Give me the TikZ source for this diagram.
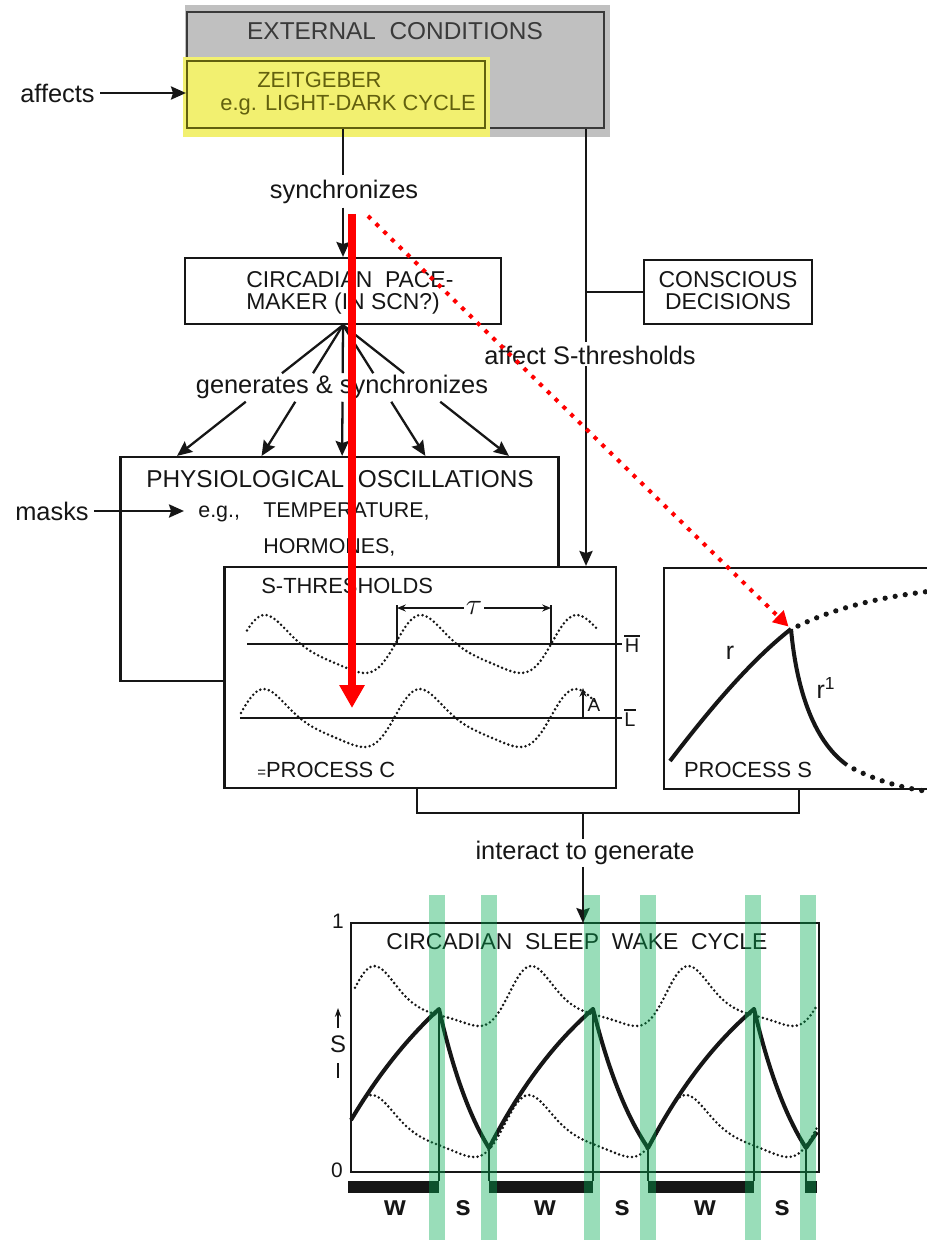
\documentclass[tikz,border=0pt]{standalone}
\usepackage{fontspec}
\setmainfont{Liberation Sans}
\usetikzlibrary{arrows.meta,calc,fit}
\definecolor{ink}{RGB}{22,22,22}
\definecolor{greybg}{RGB}{192,192,192}
\definecolor{greyink}{RGB}{58,58,58}
\definecolor{hiyel}{RGB}{242,240,112}
\definecolor{zgink}{RGB}{98,96,14}
\definecolor{hgreen}{RGB}{0,170,80}
\definecolor{hred}{RGB}{255,0,0}
\newcommand\fpx[1]{\fontsize{\fpeval{#1*0.5669}pt}{\fpeval{#1*0.68}pt}\selectfont}
\begin{document}
\begin{tikzpicture}[x=0.02cm,y=-0.02cm,
 box/.style={draw=ink,line width=1.25pt,fill=white,inner sep=0pt},
 con/.style={draw=ink,line width=1.3pt},
 arr/.style={con,-{Stealth[length=8.5pt,width=7.5pt,inset=1.2pt]}},
 txt/.style={inner sep=0pt,text=ink},
 caps/.style={txt,text height=0.72em,text depth=0.02em},
 lab/.style={txt,font=\fpx{25.5}},
 dotw/.style={draw=ink,line width=1.6pt,line cap=round,dash pattern=on 0pt off 2.5pt},
 bigdots/.style={draw=ink,line width=3pt,line cap=round,dash pattern=on 0pt off 5.8pt},
 scurve/.style={draw=ink,line width=2.3pt,line join=round},
 thinl/.style={draw=ink,line width=0.6pt},
 wbar/.style={fill=ink},
 hbar/.style={fill=hgreen,fill opacity=0.4},
 redarr/.style={draw=hred,line width=4.5pt,-{Triangle[length=13pt,width=13.6pt]}},
 reddot/.style={draw=hred,line width=2.3pt,dash pattern=on 2.3pt off 3.9pt,-{Triangle[length=8.5pt,width=9pt]}}
]
\useasboundingbox (0,0) rectangle (926,1240);
\fill[white] (0,0) rectangle (926,1240);

% ---------- external conditions / zeitgeber
\fill[greybg] (185,5) rectangle (610,137);
\node[fit={(187,12) (604,128)},draw=greyink,line width=1.25pt,inner sep=0pt] (ext) {};
\node[caps,text=greyink,font=\fpx{24.5}] (extt) at (395,33) {EXTERNAL\ \ CONDITIONS};
\fill[hiyel] (183,57) rectangle (490,137);
\node[fit={(187,61) (485,128)},draw=zgink,line width=1.25pt,inner sep=0pt] (zeit) {};
\node[caps,text=zgink,font=\fpx{22},anchor=west] (zt1) at (257,81) {ZEITGEBER};
\node[caps,text=zgink,font=\fpx{22},anchor=west] (zt2) at (220,104) {e.g. LIGHT-DARK CYCLE};

\node[lab,anchor=east] (aff) at (95,93) {affects};
\draw[arr,shorten <=3pt] (aff.east) -- (aff.east -| zeit.west);

% ---------- pacemaker
\node[box,fit={(185,258) (501,324)}] (pace) {};
\node[caps,font=\fpx{23},anchor=west] (pt1) at (246,281) {CIRCADIAN\ \ PACE-};
\node[caps,font=\fpx{23},anchor=west] (pt2) at (246,303) {MAKER (IN SCN?)};

\node[lab] (sync) at (344,192) {synchronizes};
\draw[con,shorten >=3pt] (ext.south -| pace.north) -- (sync.north -| pace.north);
\draw[arr,shorten <=2pt] (sync.south -| pace.north) -- (pace.north);

% ---------- conscious decisions
\node[box,fit={(644,260) (812,324)}] (cons) {};
\node[caps,font=\fpx{23}] (ct1) at (728,281) {CONSCIOUS};
\node[caps,font=\fpx{23}] (ct2) at (728,303) {DECISIONS};

% ---------- physiological oscillations
\node[box,fit={(120.5,457) (558.5,681)}] (phys) {};
\node[caps,font=\fpx{24.5}] (pht) at (340,481) {PHYSIOLOGICAL\ \ OSCILLATIONS};
\node[lab] (masks) at (52,511) {masks};
\node[caps,font=\fpx{21.5},anchor=west] (temp) at (263,511) {TEMPERATURE,};
\node[txt,font=\fpx{21.5},anchor=base west] (eg) at (temp.base -| 198,0) {e.g.,};
\node[caps,font=\fpx{21.5},anchor=west] (horm) at (263,547) {HORMONES,};
\draw[arr,shorten <=3pt,shorten >=8pt] (masks.east) -- (masks.east -| eg.west);

% fan
\node[lab] (gen) at (342,387) {generates \& synchronizes};
\foreach \f in {0.131,0.323,0.506,0.695,0.885}{
  \coordinate (tip) at ($(phys.north west)!\f!(phys.north east)$);
  \draw[con] (pace.south) -- ($(pace.south)!0.368!(tip)$);
  \draw[arr] ($(pace.south)!0.586!(tip)$) -- (tip);
}

% ---------- process C
\node[box,fit={(224.5,567) (616,788)}] (cbox) {};
\node[caps,font=\fpx{22},anchor=west] (sth) at (261,587) {S-THRESHOLDS};
\node[caps,font=\fpx{22},anchor=west] (pc) at (257,771) {{\fpx{15}=}PROCESS C};
\draw[line width=1.2pt,draw=ink] (247,644) -- (622,644);
\draw[line width=1.2pt,draw=ink] (240,718) -- (622,718);
\draw[dotw] plot[domain=247:597,samples=160,variable=\t] (\t,{644+29*cos((\t-365)*2.30769+31.5*(1-cos((\t-365)*2.30769)))});
\draw[dotw] plot[domain=241:596,samples=160,variable=\t] (\t,{718+29*cos((\t-364)*2.30769+31.5*(1-cos((\t-364)*2.30769)))});
\draw[thinl,line width=0.9pt] (397,605) -- (397,643);
\draw[thinl,line width=0.9pt] (551,605) -- (551,643);
\draw[thinl,line width=0.9pt,{Stealth[length=5pt,width=4pt]}-{Stealth[length=5pt,width=4pt]}] (397,608) -- (551,608);
\node[txt,fill=white,inner sep=1pt,font=\fpx{32}] (tau) at (474,608) {$\tau$};
\draw[thinl,line width=0.9pt,-{Stealth[length=5pt,width=4pt]}] (583,718) -- (583,688);
\node[caps,font=\fpx{19}] (Alab) at (594,705) {A};
\node[caps,font=\fpx{20}] (Hlab) at (632,646) {H};
\draw[line width=0.9pt,draw=ink] ([yshift=1.8pt]Hlab.north west) -- ([yshift=1.8pt]Hlab.north east);
\node[caps,font=\fpx{20}] (Llab) at (630,720) {L};
\draw[line width=0.9pt,draw=ink] ([yshift=1.8pt]Llab.north west) -- ([yshift=1.8pt]Llab.north east);

% ---------- right vertical (conscious decisions)
\coordinate (rv) at (586,0);
\node[lab] (affS) at (590,355) {affect S-thresholds};
\draw[con] (ext.south -| rv) -- ([yshift=2pt]affS.north -| rv);
\draw[arr] ([yshift=-1pt]affS.south -| rv) -- (cbox.north -| rv);
\draw[con] (cons.west) -- (cons.west -| rv);

% ---------- process S
\node[box,fit={(664,568) (945,789)}] (sbox) {};
\coordinate (speak) at (791,629);
\draw[scurve] (670,761) .. controls (700,722) and (745,665) .. (speak);
\draw[scurve] (speak) .. controls (796,685) and (812,740) .. (847,765);
\draw[bigdots] (854,769) .. controls (876,780) and (900,788) .. (932,792);
\draw[bigdots] (798,626) .. controls (835,608) and (880,597) .. (932,591);
\node[txt,font=\fpx{25}] (rlab) at (730,653) {r};
\node[txt,font=\fpx{25}] (r1lab) at (826,688) {r\textsuperscript{1}};
\node[caps,font=\fpx{22}] (psl) at (748,771) {PROCESS S};

% ---------- interaction
\coordinate (bl) at (417,0);
\coordinate (br) at (799,0);
\coordinate (stem) at (583,813);
\draw[con] (cbox.south -| bl) |- (stem) -| (sbox.south -| br);
\node[lab] (inter) at (585,853) {interact to generate};
\draw[con] (stem) -- ([yshift=1pt]inter.north -| stem);
\draw[arr] ([yshift=-1pt]inter.south -| stem) -- (0,923 -| stem);

% ---------- sleep wake cycle
\node[box,fit={(351,923) (819,1172)}] (cyc) {};
\node[caps,font=\fpx{23}] (cyct) at (577,943) {CIRCADIAN\ \ SLEEP\ \ WAKE\ \ CYCLE};
\node[caps,font=\fpx{21}] (one) at (338,922) {1};
\node[caps,font=\fpx{21}] (zero) at (337,1171) {0};
\draw[thinl,line width=0.9pt,-{Stealth[length=5pt,width=3.5pt]}] (338,1028) -- (338,1008);
\node[caps,font=\fpx{24}] (slab) at (338,1046) {S};
\draw[thinl,line width=0.9pt] (338,1063) -- (338,1078);
\draw[dotw] plot[domain=355:817,samples=180,variable=\t] (\t,{996+30*cos((\t-479)*2.29299+40.1*(1-cos((\t-479)*2.29299)))});
\draw[dotw] plot[domain=363:817,samples=180,variable=\t] (\t,{1126+31*cos((\t-474)*2.29299+34.4*(1-cos((\t-474)*2.29299)))});
\draw[scurve] plot[domain=0:1,samples=25,variable=\u] ({351+88*\u},{1120-111*(1-exp(-0.6*\u))/(1-exp(-0.6))})
 --plot[domain=0:1,samples=25,variable=\u] ({439+50*\u},{1009+139*(1-exp(-1.0*\u))/(1-exp(-1.0))})
 --plot[domain=0:1,samples=25,variable=\u] ({489+104*\u},{1148-139*(1-exp(-0.8*\u))/(1-exp(-0.8))})
 --plot[domain=0:1,samples=25,variable=\u] ({593+55*\u},{1009+139*(1-exp(-1.0*\u))/(1-exp(-1.0))})
 --plot[domain=0:1,samples=25,variable=\u] ({648+106*\u},{1148-139*(1-exp(-0.8*\u))/(1-exp(-0.8))})
 --plot[domain=0:1,samples=25,variable=\u] ({754+52*\u},{1009+139*(1-exp(-1.0*\u))/(1-exp(-1.0))})
 -- (817,1132);
\foreach \xx/\yy in {439/1009,489/1148,593/1009,648/1148,754/1009,806/1148}{
  \draw[thinl] (\xx,\yy) -- (\xx,1181);
}
\fill[wbar] (348,1181) rectangle (439,1193);
\fill[wbar] (489,1181) rectangle (593,1193);
\fill[wbar] (648,1181) rectangle (754,1193);
\fill[wbar] (805,1181) rectangle (817,1193);
\foreach \xx/\ll in {395/w,463/s,545/w,622/s,705/w,782/s}{
  \node[txt,font=\fpx{28}\bfseries] at (\xx,1208) {\ll};
}
\foreach \xx in {437,489,592,648,753,808}{
  \fill[hbar] (\xx-8,895) rectangle (\xx+8,1240);
}

% ---------- red overlays
\coordinate (rs) at (352,214);
\coordinate (re) at (352,708);
\draw[redarr] (rs) -- (re);
\coordinate (rds) at (368,216);
\draw[reddot,shorten >=2pt] (rds) -- (speak);
\end{tikzpicture}
\end{document}
